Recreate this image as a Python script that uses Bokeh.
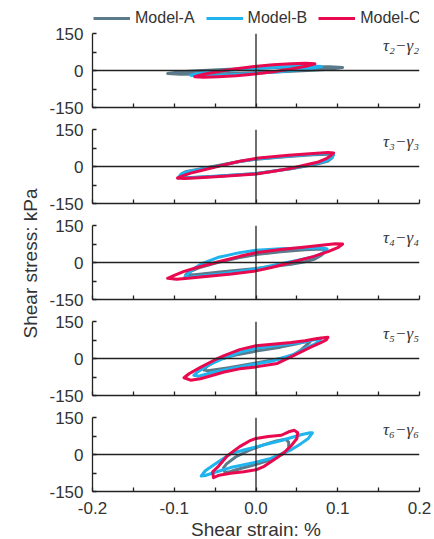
import math
from bokeh.plotting import figure
from bokeh.layouts import column, row
from bokeh.models import FixedTicker, Span, Label, Legend, LegendItem, Range1d
from bokeh.embed import file_html
from bokeh.resources import INLINE

# ---------------- data ----------------
models = ["Model-A", "Model-B", "Model-C"]
colors = ["#5b7a8a", "#1fb4ee", "#e8094f"]
panel_labels = ["τ₂−γ₂", "τ₃−γ₃", "τ₄−γ₄", "τ₅−γ₅", "τ₆−γ₆"]
x_title = "Shear strain: %"
y_title = "Shear stress: kPa"

x_ticks = [-0.2, -0.1, 0.0, 0.1, 0.2]
x_tick_labels = ["-0.2", "-0.1", "0.0", "0.1", "0.2"]
x_minor = [-0.15, -0.05, 0.05, 0.15]
y_ticks = [-150, 0, 150]
y_tick_labels = ["-150", "0", "150"]
y_minor = [-75, 75]

# panel 1 (tau2-gamma2)
strain_A1 = [-0.108, -0.092, -0.065, -0.033, -0.001, 0.031, 0.063, 0.090, 0.106, 0.090, 0.063, 0.031, -0.001, -0.033, -0.065, -0.092, -0.108]
stress_A1 = [-12, -5.5, 0, 5, 9, 12, 14.5, 15, 12, 5.5, 0, -5, -9, -12, -14.5, -15, -12]
strain_B1 = [-0.080, -0.068, -0.048, -0.024, 0.0, 0.024, 0.048, 0.068, 0.080, 0.068, 0.048, 0.024, 0.0, -0.024, -0.048, -0.068, -0.080]
stress_B1 = [-19, -11, -4, 3, 8.5, 13, 17, 18.5, 16, 8, 1, -6, -11.5, -16, -20, -21.5, -19]
strain_C1 = [-0.075, -0.064, -0.046, -0.024, -0.002, 0.021, 0.043, 0.061, 0.072, 0.061, 0.043, 0.021, -0.002, -0.024, -0.046, -0.064, -0.075]
stress_C1 = [-25, -15, -4, 7, 16, 23, 27, 29, 27, 17, 6, -5, -14, -21, -25, -27, -25]

# panel 2 (tau3-gamma3)
strain_A2 = [-0.093, -0.091, -0.085, -0.067, -0.040, -0.020, 0.0, 0.040, 0.070, 0.090, 0.094, 0.093, 0.088, 0.075, 0.043, 0.020, 0.0, -0.047, -0.080, -0.093]
stress_A2 = [-44, -30, -20, -9, 8, 20, 29, 41, 48, 50, 45, 35, 22, 10, -9, -19, -28, -40, -45, -44]
strain_B2 = [-0.095, -0.092, -0.085, -0.067, -0.040, -0.020, 0.0, 0.040, 0.070, 0.090, 0.095, 0.093, 0.087, 0.075, 0.043, 0.020, 0.0, -0.047, -0.080, -0.095]
stress_B2 = [-45, -32, -22, -11, 6, 20, 30, 43, 50, 54, 48, 36, 24, 13, -8, -19, -29, -39, -46, -45]
strain_C2 = [-0.096, -0.090, -0.080, -0.067, -0.040, -0.020, 0.0, 0.040, 0.070, 0.088, 0.095, 0.092, 0.086, 0.075, 0.043, 0.020, 0.0, -0.040, -0.070, -0.088, -0.096]
stress_C2 = [-47, -38, -27, -16, 6, 21, 33, 46, 53, 57, 55, 46, 32, 17, -7, -20, -30, -40, -46, -49, -47]

# panel 3 (tau4-gamma4)
strain_A3 = [-0.086, -0.083, -0.070, -0.047, -0.020, 0.0, 0.030, 0.060, 0.080, 0.086, 0.084, 0.080, 0.072, 0.060, 0.043, 0.0, -0.047, -0.075, -0.086]
stress_A3 = [-50, -40, -22, 0, 20, 32, 44, 52, 55, 50, 42, 30, 14, 3, -7, -24, -40, -50, -50]
strain_B3 = [-0.087, -0.083, -0.075, -0.067, -0.047, -0.020, 0.0, 0.030, 0.060, 0.080, 0.087, 0.085, 0.075, 0.050, 0.020, 0.0, -0.030, -0.047, -0.070, -0.085, -0.087]
stress_B3 = [-58, -45, -22, -6, 20, 40, 50, 56, 59, 60, 55, 45, 27, 8, -12, -26, -40, -48, -56, -62, -58]
strain_C3 = [-0.108, -0.100, -0.088, -0.070, -0.047, -0.020, 0.0, 0.030, 0.055, 0.080, 0.097, 0.106, 0.100, 0.088, 0.070, 0.047, 0.020, 0.0, -0.030, -0.055, -0.080, -0.097, -0.108]
stress_C3 = [-64, -52, -36, -18, 2, 25, 40, 53, 61, 70, 76, 75, 60, 44, 24, 4, -19, -34, -47, -55, -63, -68, -64]

# panel 4 (tau5-gamma5)
strain_A4 = [-0.064, -0.060, -0.047, -0.025, 0.0, 0.030, 0.050, 0.063, 0.066, 0.062, 0.055, 0.043, 0.020, 0.0, -0.035, -0.059, -0.064]
stress_A4 = [-46, -32, -5, 14, 30, 46, 60, 70, 66, 55, 35, 8, -6, -18, -38, -50, -46]
strain_B4 = [-0.076, -0.072, -0.060, -0.040, -0.020, 0.0, 0.030, 0.055, 0.072, 0.080, 0.078, 0.073, 0.060, 0.045, 0.020, 0.0, -0.030, -0.055, -0.070, -0.076]
stress_B4 = [-68, -56, -30, 0, 25, 42, 55, 65, 76, 82, 74, 60, 40, 15, -10, -22, -40, -58, -72, -68]
strain_C4 = [-0.088, -0.082, -0.068, -0.050, -0.039, -0.020, 0.0, 0.020, 0.043, 0.060, 0.075, 0.088, 0.086, 0.078, 0.067, 0.047, 0.026, 0.0, -0.020, -0.039, -0.055, -0.068, -0.080, -0.088]
stress_C4 = [-78, -62, -36, -5, 12, 36, 52, 58, 65, 72, 81, 86, 75, 62, 46, 14, -20, -34, -42, -55, -70, -82, -88, -78]

# panel 5 (tau6-gamma6)
strain_A5 = [-0.038, -0.040, -0.036, -0.025, -0.010, 0.010, 0.025, 0.036, 0.040, 0.040, 0.035, 0.020, 0.0, -0.020, -0.032, -0.038]
stress_A5 = [-72, -55, -38, -10, 15, 40, 55, 62, 50, 25, 5, -20, -40, -58, -70, -72]
strain_B5 = [-0.067, -0.062, -0.055, -0.045, -0.031, -0.015, 0.0, 0.031, 0.055, 0.066, 0.069, 0.064, 0.055, 0.043, 0.018, 0.0, -0.031, -0.051, -0.062, -0.067]
stress_B5 = [-87, -66, -50, -27, 3, 18, 31, 57, 80, 88, 88, 65, 44, 19, -16, -31, -53, -73, -85, -87]
strain_C5 = [-0.052, -0.053, -0.046, -0.035, -0.020, -0.008, 0.0, 0.015, 0.031, 0.040, 0.047, 0.051, 0.050, 0.043, 0.035, 0.026, 0.010, 0.0, -0.015, -0.031, -0.045, -0.052]
stress_C5 = [-94, -70, -48, -5, 32, 55, 65, 73, 78, 92, 98, 88, 65, 35, 10, -12, -48, -62, -70, -76, -84, -94]

panels = [
    [(strain_A1, stress_A1), (strain_B1, stress_B1), (strain_C1, stress_C1)],
    [(strain_A2, stress_A2), (strain_B2, stress_B2), (strain_C2, stress_C2)],
    [(strain_A3, stress_A3), (strain_B3, stress_B3), (strain_C3, stress_C3)],
    [(strain_A4, stress_A4), (strain_B4, stress_B4), (strain_C4, stress_C4)],
    [(strain_A5, stress_A5), (strain_B5, stress_B5), (strain_C5, stress_C5)],
]

# ---------------- style ----------------
FONT = "Liberation Sans"
AX = "#222222"
TXT = "#333333"
FRAME_W, FRAME_H = 327, 74
LABEL_W = 42          # width of the strip holding the shared y title
LEG_H = 26            # height of the strip holding the legend
TOTAL_H = 539
LW = 3

figs = []
n = len(panels)
for i, loops in enumerate(panels):
    first = i == 0
    last = i == n - 1
    p = figure(
        frame_width=FRAME_W, frame_height=FRAME_H,
        x_range=Range1d(-0.2, 0.2), y_range=Range1d(-150, 150),
        output_backend="svg", toolbar_location=None,
        min_border_left=92 - LABEL_W, min_border_right=15,
        min_border_top=33 - LEG_H if first else 11,
        min_border_bottom=48 if last else 11,
        outline_line_color=None, background_fill_color="white",
        border_fill_color="white",
    )
    p.grid.visible = False

    for (sx, sy), c in zip(loops, colors):
        p.line(sx, sy, line_color=c, line_width=LW, line_join="round", line_cap="round")

    p.add_layout(Span(location=0, dimension="width", line_color=AX, line_width=1.3))
    p.add_layout(Span(location=0, dimension="height", line_color=AX, line_width=1.3))

    xa = p.xaxis[0]
    if last:
        xa.ticker = FixedTicker(ticks=x_ticks, minor_ticks=x_minor)
        xa.major_label_overrides = dict(zip(x_ticks, x_tick_labels))
    else:
        # unlabeled axis: all positions drawn as tick marks only
        xa.ticker = FixedTicker(ticks=[], minor_ticks=sorted(x_ticks + x_minor))
    ya = p.yaxis[0]
    ya.ticker = FixedTicker(ticks=y_ticks, minor_ticks=y_minor)
    ya.major_label_overrides = dict(zip(y_ticks, y_tick_labels))
    for ax in (xa, ya):
        ax.axis_line_color = AX
        ax.axis_line_width = 1.3
        ax.major_tick_line_color = AX
        ax.minor_tick_line_color = AX
        ax.major_tick_line_width = 1.3
        ax.minor_tick_line_width = 1.3
        ax.major_tick_in = 4
        ax.major_tick_out = 0
        ax.minor_tick_in = 4
        ax.minor_tick_out = 0
        ax.major_label_text_font = FONT
        ax.major_label_text_font_size = "17px"
        ax.major_label_text_color = TXT
        ax.axis_label_text_font = FONT
        ax.axis_label_text_font_style = "normal"
        ax.axis_label_text_font_size = "19px"
        ax.axis_label_text_color = TXT
    ya.major_label_standoff = 9
    if last:
        xa.major_label_standoff = 10
        xa.axis_label = x_title
        xa.axis_label_standoff = 2
    else:
        xa.major_label_standoff = 0

    p.add_layout(Label(x=0.1995, y=100, text=panel_labels[i], text_align="right",
                       text_baseline="middle", text_font="Liberation Serif",
                       text_font_style="italic", text_font_size="17px",
                       text_color=TXT))
    figs.append(p)

# strip holding the legend (swatch style taken from line renderers that draw nothing)
leg = figure(width=92 - LABEL_W + FRAME_W + 15, height=LEG_H,
             x_range=Range1d(0, 1), y_range=Range1d(0, 1),
             output_backend="svg", toolbar_location=None, min_border=0,
             outline_line_color=None, border_fill_color="white",
             background_fill_color="white")
leg.axis.visible = False
leg.grid.visible = False
nan = float("nan")
swatches = [leg.line(x=[nan], y=[nan], line_color=c, line_width=LW) for c in colors]
legend = Legend(
    items=[LegendItem(label=m, renderers=[r]) for m, r in zip(models, swatches)],
    orientation="horizontal", location=(1, -1),
    label_text_font=FONT, label_text_font_size="16px", label_text_color=TXT,
    glyph_width=37, glyph_height=16, label_standoff=5, spacing=11,
    padding=0, margin=0, border_line_color=None, background_fill_alpha=0,
    label_height=16,
)
leg.add_layout(legend, "center")

# strip holding the shared y-axis title
ylab = figure(width=LABEL_W, height=TOTAL_H, x_range=Range1d(0, 1), y_range=Range1d(0, 1),
              output_backend="svg", toolbar_location=None, min_border=0,
              outline_line_color=None, border_fill_color="white",
              background_fill_color="white")
ylab.axis.visible = False
ylab.grid.visible = False
ylab.add_layout(Label(x=30 / LABEL_W, y=(TOTAL_H - 263) / TOTAL_H, text=y_title, angle=math.pi / 2,
                      text_align="center", text_baseline="middle", text_font=FONT,
                      text_font_size="19px", text_color=TXT))

layout = row(ylab, column(leg, *figs, spacing=0), spacing=0)
open("out.html", "w").write(file_html(layout, INLINE))
